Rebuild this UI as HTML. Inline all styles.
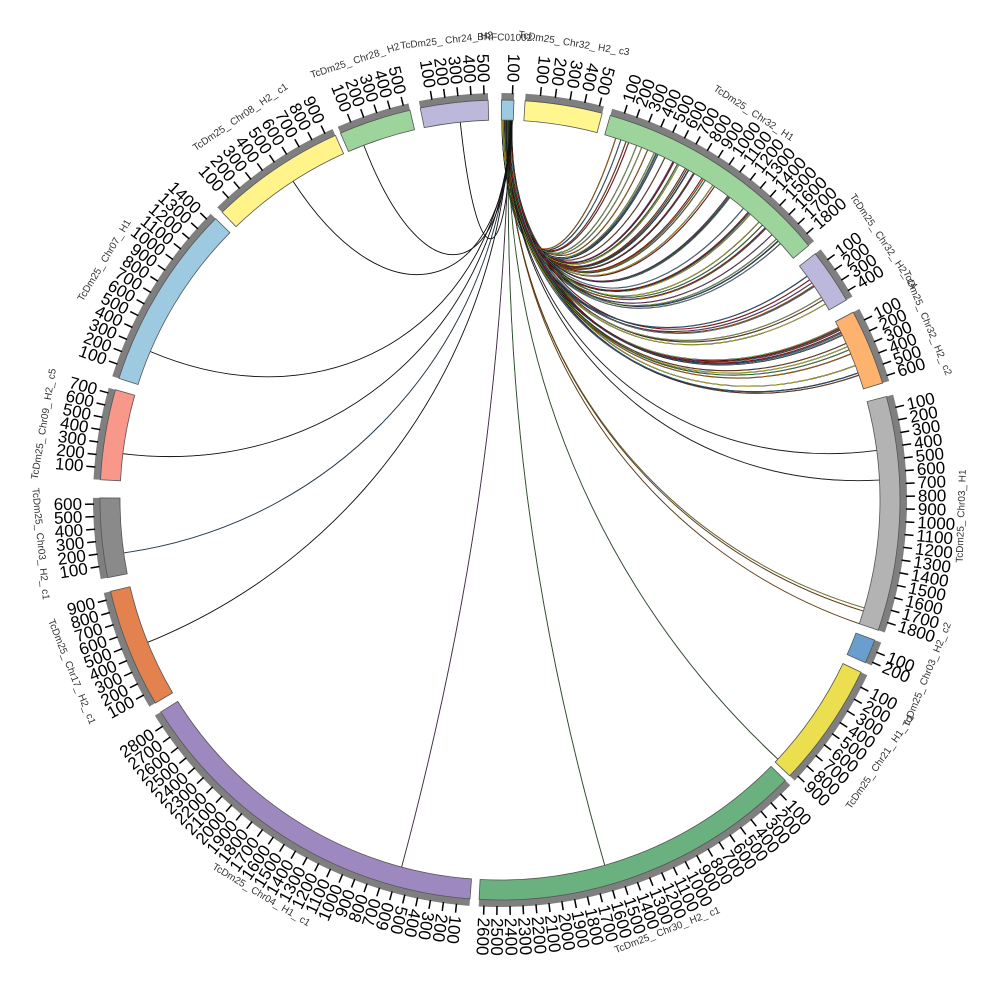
<!DOCTYPE html>
<html><head><meta charset="utf-8"><style>html,body{margin:0;padding:0;background:#fff;}svg{display:block}</style></head>
<body>
<svg id="s" width="1000" height="1000" xmlns="http://www.w3.org/2000/svg" font-family="Liberation Sans, sans-serif"></svg>
<script>
const cx=500,cy=500,R0=380,R1=400;
function P(r,a){a=a*Math.PI/180;return [cx+r*Math.sin(a),cy-r*Math.cos(a)];}
const segs=[
 ["BRFC01002...",0.2,2.0,"#9ecae1",100,115],
 ["TcDm25_Chr32_H2_c3",3.6,14.8,"#fff68f",500,530],
 ["TcDm25_Chr32_H1",16,50.5,"#9cd49c",1800,1880],
 ["TcDm25_Chr32_H2_c4",52,60,"#bcb8dc",400,460],
 ["TcDm25_Chr32_H2_c2",62,73,"#fdb36e",600,650],
 ["TcDm25_Chr03_H1",75,109,"#b3b3b3",1800,1880],
 ["TcDm25_Chr03_H2_c2",110.5,114,"#6a9ecf",200,230],
 ["TcDm25_Chr21_H1_c1",115.5,133.6,"#ebdf4f",900,940],
 ["TcDm25_Chr30_H2_c1",134.5,183,"#6ab17f",2600,2640],
 ["TcDm25_Chr04_H1_c1",184.3,238,"#9d88c0",2800,2900],
 ["TcDm25_Chr17_H2_c1",239.5,256.8,"#e3814f",900,960],
 ["TcDm25_Chr03_H2_c1",258.8,270.3,"#8a8a8a",600,650],
 ["TcDm25_Chr09_H2_c5",272.9,286,"#f8988a",700,740],
 ["TcDm25_Chr07_H1",287.7,314.7,"#9ecae1",1400,1450],
 ["TcDm25_Chr08_H2_c1",316,335.7,"#fff38a",900,960],
 ["TcDm25_Chr28_H2",336.5,347,"#9cd49c",500,540],
 ["TcDm25_Chr24_H2",348.5,358.3,"#bcb8dc",500,530]];
let h='';
function arc(r0,r1,a0,a1,fill,stroke){
 const l=(a1-a0)>180?1:0;
 const p=P(r1,a0),q=P(r1,a1),r=P(r0,a1),s=P(r0,a0);
 return `<path d="M${p} A${r1},${r1} 0 ${l} 1 ${q} L${r} A${r0},${r0} 0 ${l} 0 ${s} Z" fill="${fill}" stroke="${stroke}" stroke-width="0.8"/>`;
}
let seed=7;function rnd(){seed=(seed*9301+49297)%233280;return seed/233280;}
const cols=["#e41a1c","#377eb8","#4daf4a","#984ea3","#ff7f00","#ffff33","#a65628","#80b1d3","#b3de69"];
function link(a,b,c,w){
 const p=P(R0,a),q=P(R0,b);
 const d=Math.abs(b-a);const d2=Math.min(d,360-d);
 const f=d2/180;
 const c1=P(R0*(0.6-0.3*f),a),c2=P(R0*(0.6-0.35*f),b);
 const path=`M${p} C${c1} ${c2} ${q}`;
 h+=`<path d="${path}" fill="none" stroke="#111" stroke-width="${w+0.6}"/><path d="${path}" fill="none" stroke="${c}" stroke-width="${w}"/>`;
}
for(let i=0;i<45;i++){link(0.3+rnd()*1.6,17+rnd()*31,cols[i%9],0.5);}
for(let i=0;i<8;i++){link(0.3+rnd()*1.6,53+rnd()*6,cols[(i+3)%9],0.5);}
for(let i=0;i<16;i++){link(0.3+rnd()*1.6,63+rnd()*9,cols[(i+5)%9],0.5);}
[[82.5,"#333"],[87,"#333"],[106.5,"#ffff33"],[107,"#ff7f00"],[109,"#ff7f00"],[133,"#4daf4a"],[164,"#4daf4a"],[195,"#984ea3"],[248,"#111"],[262,"#377eb8"],[277,"#111"],[293,"#111"],[327,"#111"],[339,"#111"],[354,"#111"]].forEach((t,i)=>link(1+i*0.06,t[0],t[1],0.3));
segs.forEach(s=>{
 const [name,a0,a1,col,maxv,len]=s;
 h+=arc(400,407,a0,a1,"#7f7f7f","none");
 h+=arc(R0,R1,a0,a1,col,"#555");
 const sc=(a1-a0)/len;
 for(let v=100;v<=maxv;v+=100){
  const a=a0+v*sc;const p=P(406,a),q=P(415,a);
  h+=`<line x1="${p[0]}" y1="${p[1]}" x2="${q[0]}" y2="${q[1]}" stroke="#000" stroke-width="1.5"/>`;
  const t=P(418,a);
  if(a>=15&&a<195) h+=`<text x="${t[0]}" y="${t[1]}" font-size="17" text-anchor="start" dominant-baseline="central" transform="rotate(${a-90} ${t[0]} ${t[1]})">${v}</text>`;
  else h+=`<text x="${t[0]}" y="${t[1]}" font-size="17" text-anchor="end" dominant-baseline="central" transform="rotate(${a+90} ${t[0]} ${t[1]})">${v}</text>`;
 }
 const am=(a0+a1)/2;const t=P(462,am);
 let rot=am; if(am>90&&am<270) rot=am+180;
 h+=`<text x="${t[0]}" y="${t[1]}" font-size="10" fill="#333" text-anchor="middle" dominant-baseline="central" transform="rotate(${rot} ${t[0]} ${t[1]})">${name.replace(/_/g,"_ ")}</text>`;
});
document.getElementById('s').innerHTML=h;
</script>
</body></html>
